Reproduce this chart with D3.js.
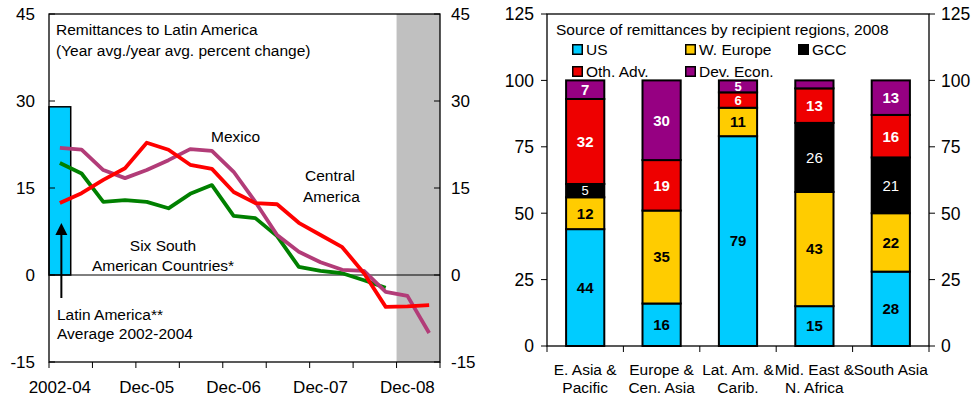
<!DOCTYPE html>
<html>
<head>
<meta charset="utf-8">
<script src="https://cdn.jsdelivr.net/npm/d3@7"></script>
<style>
body { margin: 0; background: #fff; }
text { font-family: "Liberation Sans", Arial, sans-serif; fill: #000; }
</style>
</head>
<body>
<div id="chart"></div>
<script>
// left panel: quarterly growth, year avg./year avg.
var quarters = ["2002-04","Mar-05","Jun-05","Sep-05","Dec-05","Mar-06","Jun-06","Sep-06","Dec-06",
	"Mar-07","Jun-07","Sep-07","Dec-07","Mar-08","Jun-08","Sep-08","Dec-08","Mar-09"];
var quarterLabels = ["2002-04","Dec-05","Dec-06","Dec-07","Dec-08"];
var centralAmerica = [12.4,14.1,16.4,18.4,22.8,21.6,19.0,18.3,14.3,12.4,12.2,9.0,6.9,4.8,0.3,-5.5,-5.4,-5.2];
var mexico = [21.9,21.6,18.1,16.7,18.1,19.8,21.7,21.4,17.8,12.6,6.9,4.0,2.2,0.9,0.7,-2.9,-3.6,-10.0];
var southAmerica = [19.3,17.5,12.6,12.9,12.6,11.5,14.0,15.5,10.2,9.8,6.7,1.4,0.7,0.3,-0.9,-2.2];
var latAmAverage = 29.0;
var forecastStart = "Dec-08";
var leftTicks = [-15,0,15,30,45];

// right panel: source of remittances, 2008 (percent)
var regions = ["E. Asia & Pacific","Europe & Cen. Asia","Lat. Am. & Carib.","Mid. East & N. Africa","South Asia"];
var regionLines = [["E. Asia &","Pacific"],["Europe &","Cen. Asia"],["Lat. Am. &","Carib."],["Mid. East &","N. Africa"],["South Asia"]];
var sources = ["US","W. Europe","GCC","Oth. Adv.","Dev. Econ."];
var us = [44,16,79,15,28];
var wEurope = [12,35,10.7,43,22];
var gcc = [5,0,0,26,21];
var othAdv = [32,19,5.8,13,16];
var devEcon = [7,30,4.5,3,13];
var rightTicks = [0,25,50,75,100,125];

const
	W = 976, H = 400,
	FS = "15.5px",
	LINE_W = 3.8,
	C_BLUE = "#00CCFF",
	C_RED = "#FF0000",
	C_MEX = "#B23C78",
	C_GREEN = "#008000",
	C_GREY = "#C0C0C0";

var svg = d3.select("#chart").append("svg")
	.attr("width", W).attr("height", H);

// ---------------- left panel ----------------
var L = {left: 49, right: 440, top: 14, bottom: 362};
var x = d3.scaleBand().domain(quarters).range([L.left, L.right]);
var y = d3.scaleLinear().domain([-15, 45]).range([L.bottom, L.top]);
var bw = x.bandwidth();
var xc = function(i){ return x(quarters[i]) + bw / 2; };

var gl = svg.append("g");

gl.append("rect")
	.attr("x", x(forecastStart)).attr("y", L.top)
	.attr("width", L.right - x(forecastStart)).attr("height", L.bottom - L.top)
	.attr("fill", C_GREY);

gl.append("rect")
	.attr("x", x(quarters[0])).attr("y", y(latAmAverage))
	.attr("width", bw).attr("height", y(0) - y(latAmAverage))
	.attr("fill", C_BLUE).attr("stroke", "#000").attr("stroke-width", 1.5);

gl.append("line")
	.attr("x1", L.left).attr("x2", L.right).attr("y1", y(0)).attr("y2", y(0))
	.attr("stroke", "#000").attr("stroke-width", 1);

// box + ticks
gl.append("rect")
	.attr("x", L.left).attr("y", L.top).attr("width", L.right - L.left).attr("height", L.bottom - L.top)
	.attr("fill", "none").attr("stroke", "#000").attr("stroke-width", 1.3);

leftTicks.forEach(function(t){
	gl.append("line").attr("x1", L.left).attr("x2", L.left + 6).attr("y1", y(t)).attr("y2", y(t)).attr("stroke", "#000");
	gl.append("line").attr("x1", L.right - 6).attr("x2", L.right).attr("y1", y(t)).attr("y2", y(t)).attr("stroke", "#000");
	gl.append("text").attr("x", 35).attr("y", y(t)).attr("dy", ".36em")
		.attr("text-anchor", "end").style("font-size", "17px").text(t);
	gl.append("text").attr("x", 451).attr("y", y(t)).attr("dy", ".36em")
		.style("font-size", "17px").text(t);
});

for (var i = 0; i <= quarters.length; i += 2) {
	gl.append("line")
		.attr("x1", L.left + i * bw).attr("x2", L.left + i * bw)
		.attr("y1", L.bottom).attr("y2", L.bottom + 6)
		.attr("stroke", "#000");
}
quarterLabels.forEach(function(q){
	gl.append("text").attr("x", x(q) + bw / 2).attr("y", 393)
		.attr("text-anchor", "middle").style("font-size", "17px").text(q);
});

var line = d3.line()
	.x(function(d, i){ return xc(i); })
	.y(function(d){ return y(d); });

[[southAmerica, C_GREEN], [mexico, C_MEX], [centralAmerica, C_RED]].forEach(function(s){
	gl.append("path").datum(s[0])
		.attr("d", line)
		.attr("fill", "none")
		.attr("stroke", s[1])
		.attr("stroke-width", LINE_W)
		.attr("stroke-linejoin", "round");
});

// arrow pointing to the average bar
var ax = xc(0) + 1.5;
gl.append("line").attr("x1", ax).attr("x2", ax).attr("y1", 298).attr("y2", 232)
	.attr("stroke", "#000").attr("stroke-width", 2);
gl.append("path")
	.attr("d", "M" + ax + ",223 L" + (ax - 6) + ",235 L" + (ax + 6) + ",235 Z")
	.attr("fill", "#000");

var leftNotes = [
	{t: "Remittances to Latin America", x: 56, y: 35},
	{t: "(Year avg./year avg. percent change)", x: 56, y: 56},
	{t: "Mexico", x: 211, y: 142},
	{t: "Central", x: 305, y: 181},
	{t: "America", x: 303, y: 202},
	{t: "Six South", x: 163, y: 251, a: "middle"},
	{t: "American Countries*", x: 163, y: 271, a: "middle"},
	{t: "Latin America**", x: 57, y: 320},
	{t: "Average 2002-2004", x: 57, y: 339}
];
leftNotes.forEach(function(n){
	gl.append("text").attr("x", n.x).attr("y", n.y)
		.attr("text-anchor", n.a || "start").style("font-size", FS).text(n.t);
});

// ---------------- right panel ----------------
var R = {left: 547, right: 929, top: 14, bottom: 346};
var xb = d3.scaleBand().domain(regions).range([R.left, R.right])
	.paddingInner(0.5).paddingOuter(0.25);
var yb = d3.scaleLinear().domain([0, 125]).range([R.bottom, R.top]);
var colors = d3.scaleOrdinal().domain(sources)
	.range([C_BLUE, "#FFCC00", "#000000", "#EE0000", "#960082"]);
var labelColor = {"US": "#000", "W. Europe": "#000", "GCC": "#fff", "Oth. Adv.": "#fff", "Dev. Econ.": "#fff"};

var seriesVals = [us, wEurope, gcc, othAdv, devEcon];
var table = regions.map(function(r, j){
	var o = {region: r};
	sources.forEach(function(k, s){ o[k] = seriesVals[s][j]; });
	return o;
});
var stacked = d3.stack().keys(sources)(table);

var gr = svg.append("g");

gr.append("rect")
	.attr("x", R.left).attr("y", R.top).attr("width", R.right - R.left).attr("height", R.bottom - R.top)
	.attr("fill", "none").attr("stroke", "#000").attr("stroke-width", 1.3);

rightTicks.forEach(function(t){
	gr.append("line").attr("x1", R.left - 6).attr("x2", R.left).attr("y1", yb(t)).attr("y2", yb(t)).attr("stroke", "#000");
	gr.append("line").attr("x1", R.right).attr("x2", R.right + 6).attr("y1", yb(t)).attr("y2", yb(t)).attr("stroke", "#000");
	gr.append("text").attr("x", 534).attr("y", yb(t)).attr("dy", ".36em")
		.attr("text-anchor", "end").style("font-size", "17.5px").text(t);
	gr.append("text").attr("x", 941).attr("y", yb(t)).attr("dy", ".36em")
		.style("font-size", "17.5px").text(t);
});

var step = xb.step();
for (var j = 0; j <= regions.length; j++) {
	var tx = R.left + j * step;
	gr.append("line").attr("x1", tx).attr("x2", tx).attr("y1", R.bottom).attr("y2", R.bottom + 6).attr("stroke", "#000");
}

stacked.forEach(function(layer){
	var key = layer.key;
	var g = gr.append("g");
	g.selectAll("rect")
		.data(layer.filter(function(d){ return d[1] - d[0] > 0; }))
		.enter().append("rect")
		.attr("x", function(d){ return xb(d.data.region); })
		.attr("y", function(d){ return yb(d[1]); })
		.attr("width", xb.bandwidth())
		.attr("height", function(d){ return yb(d[0]) - yb(d[1]); })
		.attr("fill", colors(key))
		.attr("stroke", "#000").attr("stroke-width", 2);
	g.selectAll("text")
		.data(layer.filter(function(d){ return d[1] - d[0] >= 4; }))
		.enter().append("text")
		.attr("x", function(d){ return xb(d.data.region) + xb.bandwidth() / 2; })
		.attr("y", function(d){ return yb((d[0] + d[1]) / 2); })
		.attr("dy", ".36em")
		.attr("text-anchor", "middle")
		// small segments get a smaller label so they fit
		.style("font-size", function(d){ return d[1] - d[0] < 7 ? "13px" : "15px"; })
		.style("font-weight", key == "GCC" ? "normal" : "bold")
		.style("fill", labelColor[key])
		.text(function(d){ return Math.round(d[1] - d[0]); });
});

regions.forEach(function(r, j){
	regionLines[j].forEach(function(t, k){
		gr.append("text").attr("x", xb(r) + xb.bandwidth() / 2).attr("y", 375 + k * 18)
			.attr("text-anchor", "middle").style("font-size", FS).text(t);
	});
});

gr.append("text").attr("x", 556).attr("y", 35).style("font-size", FS)
	.text("Source of remittances by recipient regions, 2008");

var legend = gr.selectAll(".legend")
	.data(sources)
	.enter().append("g")
	.attr("class", "legend")
	.attr("transform", function(d, i){ return "translate(" + (572 + (i % 3) * 113) + "," + (44 + Math.floor(i / 3) * 22) + ")"; });
legend.append("rect")
	.attr("x", 0.75).attr("y", 0.75).attr("width", 9.5).attr("height", 9.5)
	.attr("fill", function(d){ return colors(d); })
	.attr("stroke", "#000").attr("stroke-width", 1.5);
legend.append("text")
	.attr("x", 14).attr("y", 11)
	.style("font-size", FS)
	.text(function(d){ return d; });
</script>
</body>
</html>
